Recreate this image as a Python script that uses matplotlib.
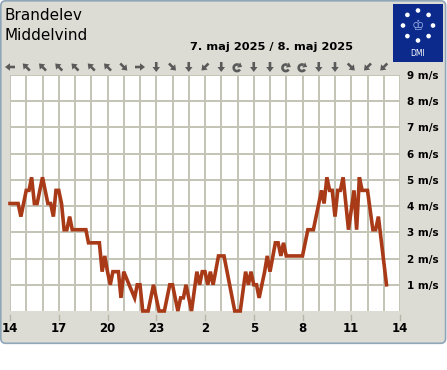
import math
import matplotlib
matplotlib.use("Agg")
import matplotlib.pyplot as plt
from matplotlib.patches import FancyBboxPatch, Rectangle, Circle, FancyArrow, Polygon
import matplotlib.transforms as mtransforms

# ---------------- data ----------------
station = "Brandelev"
parameter = "Middelvind"
date_label = "7. maj 2025 / 8. maj 2025"

# hours after 14:00 on 7 May
hours_since_start = [0.0, 0.5, 0.67, 1.0, 1.17, 1.33, 1.5, 1.67, 2.0, 2.33, 2.5, 2.67,
                     2.83, 3.0, 3.17, 3.33, 3.5, 3.67, 3.83, 4.67, 4.83, 5.5, 5.67, 5.83,
                     6.0, 6.17, 6.33, 6.67, 6.83, 7.0, 7.33, 7.67, 7.83, 8.0, 8.17, 8.5,
                     8.83, 9.17, 9.5, 9.83, 10.0, 10.33, 10.5, 10.67, 10.83, 11.17, 11.5,
                     11.67, 11.83, 12.0, 12.17, 12.33, 12.5, 12.83, 13.17, 13.83, 14.17,
                     14.5, 14.67, 14.83, 15.0, 15.17, 15.33, 15.5, 15.67, 15.83, 16.0,
                     16.33, 16.5, 16.67, 16.83, 17.0, 18.0, 18.33, 18.67, 19.17, 19.33,
                     19.5, 19.67, 19.83, 20.0, 20.17, 20.33, 20.5, 20.83, 21.17, 21.33,
                     21.5, 21.67, 22.0, 22.33, 22.5, 22.67, 23.17]
wind_speed_ms = [4.1, 4.1, 3.6, 4.6, 4.6, 5.1, 4.1, 4.1, 5.1, 4.1, 4.1, 3.6,
                 4.6, 4.6, 4.1, 3.1, 3.1, 3.6, 3.1, 3.1, 2.6, 2.6, 1.5, 2.1,
                 1.5, 1.0, 1.5, 1.5, 0.5, 1.5, 1.0, 0.5, 1.0, 1.0, 0.0, 0.0,
                 1.0, 0.0, 0.0, 1.0, 1.0, 0.0, 0.5, 0.5, 1.0, 0.0, 1.5,
                 1.0, 1.5, 1.5, 1.0, 1.5, 1.0, 2.1, 2.1, 0.0, 0.0,
                 1.5, 1.0, 1.5, 1.0, 1.0, 0.5, 1.0, 1.5, 2.1, 1.5,
                 2.6, 2.6, 2.1, 2.6, 2.1, 2.1, 3.1, 3.1, 4.6, 4.1,
                 5.1, 4.6, 4.6, 3.6, 4.6, 4.6, 5.1, 3.1, 4.6, 3.1,
                 5.1, 4.6, 4.6, 3.1, 3.1, 3.6, 1.0]

tick_hours = [0, 3, 6, 9, 12, 15, 18, 21, 24]
tick_labels = ["14", "17", "20", "23", "2", "5", "8", "11", "14"]
y_ticks = [1, 2, 3, 4, 5, 6, 7, 8, 9]
y_tick_labels = ["1 m/s", "2 m/s", "3 m/s", "4 m/s", "5 m/s", "6 m/s", "7 m/s", "8 m/s", "9 m/s"]
hour_slots = list(range(24))
direction_symbols = ["←", "↖", "↖", "↖", "↖", "↖", "↖", "↘", "→", "↓", "↘", "↓",
                     "↙", "↓", "↻", "↓", "↓", "↻", "↻", "↓", "↓", "↘", "↙", "↙"]

# screen direction (dx right, dy down) of each arrow glyph
arrow_vectors = {"←": (-1, 0), "→": (1, 0), "↓": (0, 1), "↑": (0, -1),
                 "↖": (-0.7071, -0.7071), "↗": (0.7071, -0.7071),
                 "↘": (0.7071, 0.7071), "↙": (-0.7071, 0.7071)}

# ---------------- figure ----------------
W, H = 447, 370
fig = plt.figure(figsize=(W / 100, H / 100), dpi=100)
fig.patch.set_facecolor("white")

bg = fig.add_axes([0, 0, 1, 1], zorder=0)
bg.set_xlim(0, W)
bg.set_ylim(H, 0)
bg.axis("off")

panel_col = "#dcdcd4"
bg.add_patch(FancyBboxPatch((0.8, 0.8), W - 2.2, 342.5,
                            boxstyle="round,pad=0,rounding_size=5",
                            fc=panel_col, ec="#8ea6b8", lw=1.2))

# titles
bg.text(5, 20, station, fontsize=11, color="black", ha="left", va="baseline")
bg.text(5, 39.5, parameter, fontsize=11, color="black", ha="left", va="baseline")
bg.text(271, 50, date_label, fontsize=8.2, fontweight="bold", color="black",
        ha="center", va="baseline")

# DMI logo
bg.add_patch(Rectangle((393, 4), 50, 58, fc="#0b2a8c", ec="none"))
for k in range(8):
    ang = math.radians(90 + 45 * k)
    bg.add_patch(Circle((418 + 15 * math.cos(ang), 25.5 - 15 * math.sin(ang)), 2.3,
                        fc="white", ec="none"))
bg.text(418, 26, "♔", fontsize=10, color="#9fb2e6", ha="center", va="center")
bg.text(418, 54, "DMI", fontsize=5.5, color="white", ha="center", va="center")

# ---------------- main plot ----------------
left, right, top, bottom = 10, 400, 75, 311
ax = fig.add_axes([left / W, (H - bottom) / H, (right - left) / W, (bottom - top) / H], zorder=1)
ax.set_facecolor("white")
ax.set_xlim(0, 24)
ax.set_ylim(0, 9)
for s in ax.spines.values():
    s.set_visible(False)

grid_col = "#c3c3b6"
ax.set_xticks(tick_hours)
ax.set_xticklabels(tick_labels)
ax.set_xticks(range(0, 25), minor=True)
ax.set_yticks(y_ticks)
ax.set_yticklabels(y_tick_labels)
ax.yaxis.tick_right()
ax.grid(True, which="both", color=grid_col, lw=1.4, zorder=0)
ax.tick_params(axis="x", which="both", length=0, pad=8)
ax.tick_params(axis="y", which="both", length=0, pad=5)
for lab in ax.get_xticklabels():
    lab.set_fontsize(8.5)
    lab.set_fontweight("bold")
for lab in ax.get_yticklabels():
    lab.set_fontsize(7.5)
    lab.set_fontweight("bold")
    lab.set_horizontalalignment("left")

# small tick marks below the plot
trans = mtransforms.blended_transform_factory(ax.transData, ax.transAxes)
for th in tick_hours:
    ax.plot([th, th], [-4 / 236, -9 / 236], transform=trans, color="#b5b5a8",
            lw=1.0, clip_on=False)

ax.plot(hours_since_start, wind_speed_ms, color="#a83a18", lw=2.6,
        solid_joinstyle="miter", clip_on=False, zorder=3)

# wind direction arrows (row above the plot)
arrow_col = "#5a5a5a"
arrow_y = 67
for h, sym in zip(hour_slots, direction_symbols):
    px = ax.transData.transform((h, 0))[0]
    if sym in arrow_vectors:
        dx, dy = arrow_vectors[sym]
        L = 10.0
        bg.add_patch(FancyArrow(px - dx * L / 2, arrow_y - dy * L / 2, dx * L, dy * L,
                                width=2.6, head_width=7.5, head_length=5.0,
                                length_includes_head=True, fc=arrow_col, ec="none"))
    else:
        # variable direction: clockwise circular arrow
        r, cx, cy = 3.3, px - 0.5, arrow_y + 0.8
        angs = [math.radians(a) for a in range(-30, -301, -10)]
        xs = [cx + r * math.cos(a) for a in angs]
        ys = [cy - r * math.sin(a) for a in angs]
        bg.plot(xs, ys, color=arrow_col, lw=1.9, solid_capstyle="butt")
        a_end = angs[-1]
        ex, ey = cx + r * math.cos(a_end), cy - r * math.sin(a_end)
        tx, ty = 0.866, 0.5   # screen tangent (right, down)
        nx, ny = -ty, tx
        head = [(ex + tx * 4.0, ey + ty * 4.0),
                (ex - nx * 3.0, ey - ny * 3.0),
                (ex + nx * 3.0, ey + ny * 3.0)]
        bg.add_patch(Polygon(head, closed=True, fc=arrow_col, ec="none"))

fig.savefig("out.png", dpi=100)
